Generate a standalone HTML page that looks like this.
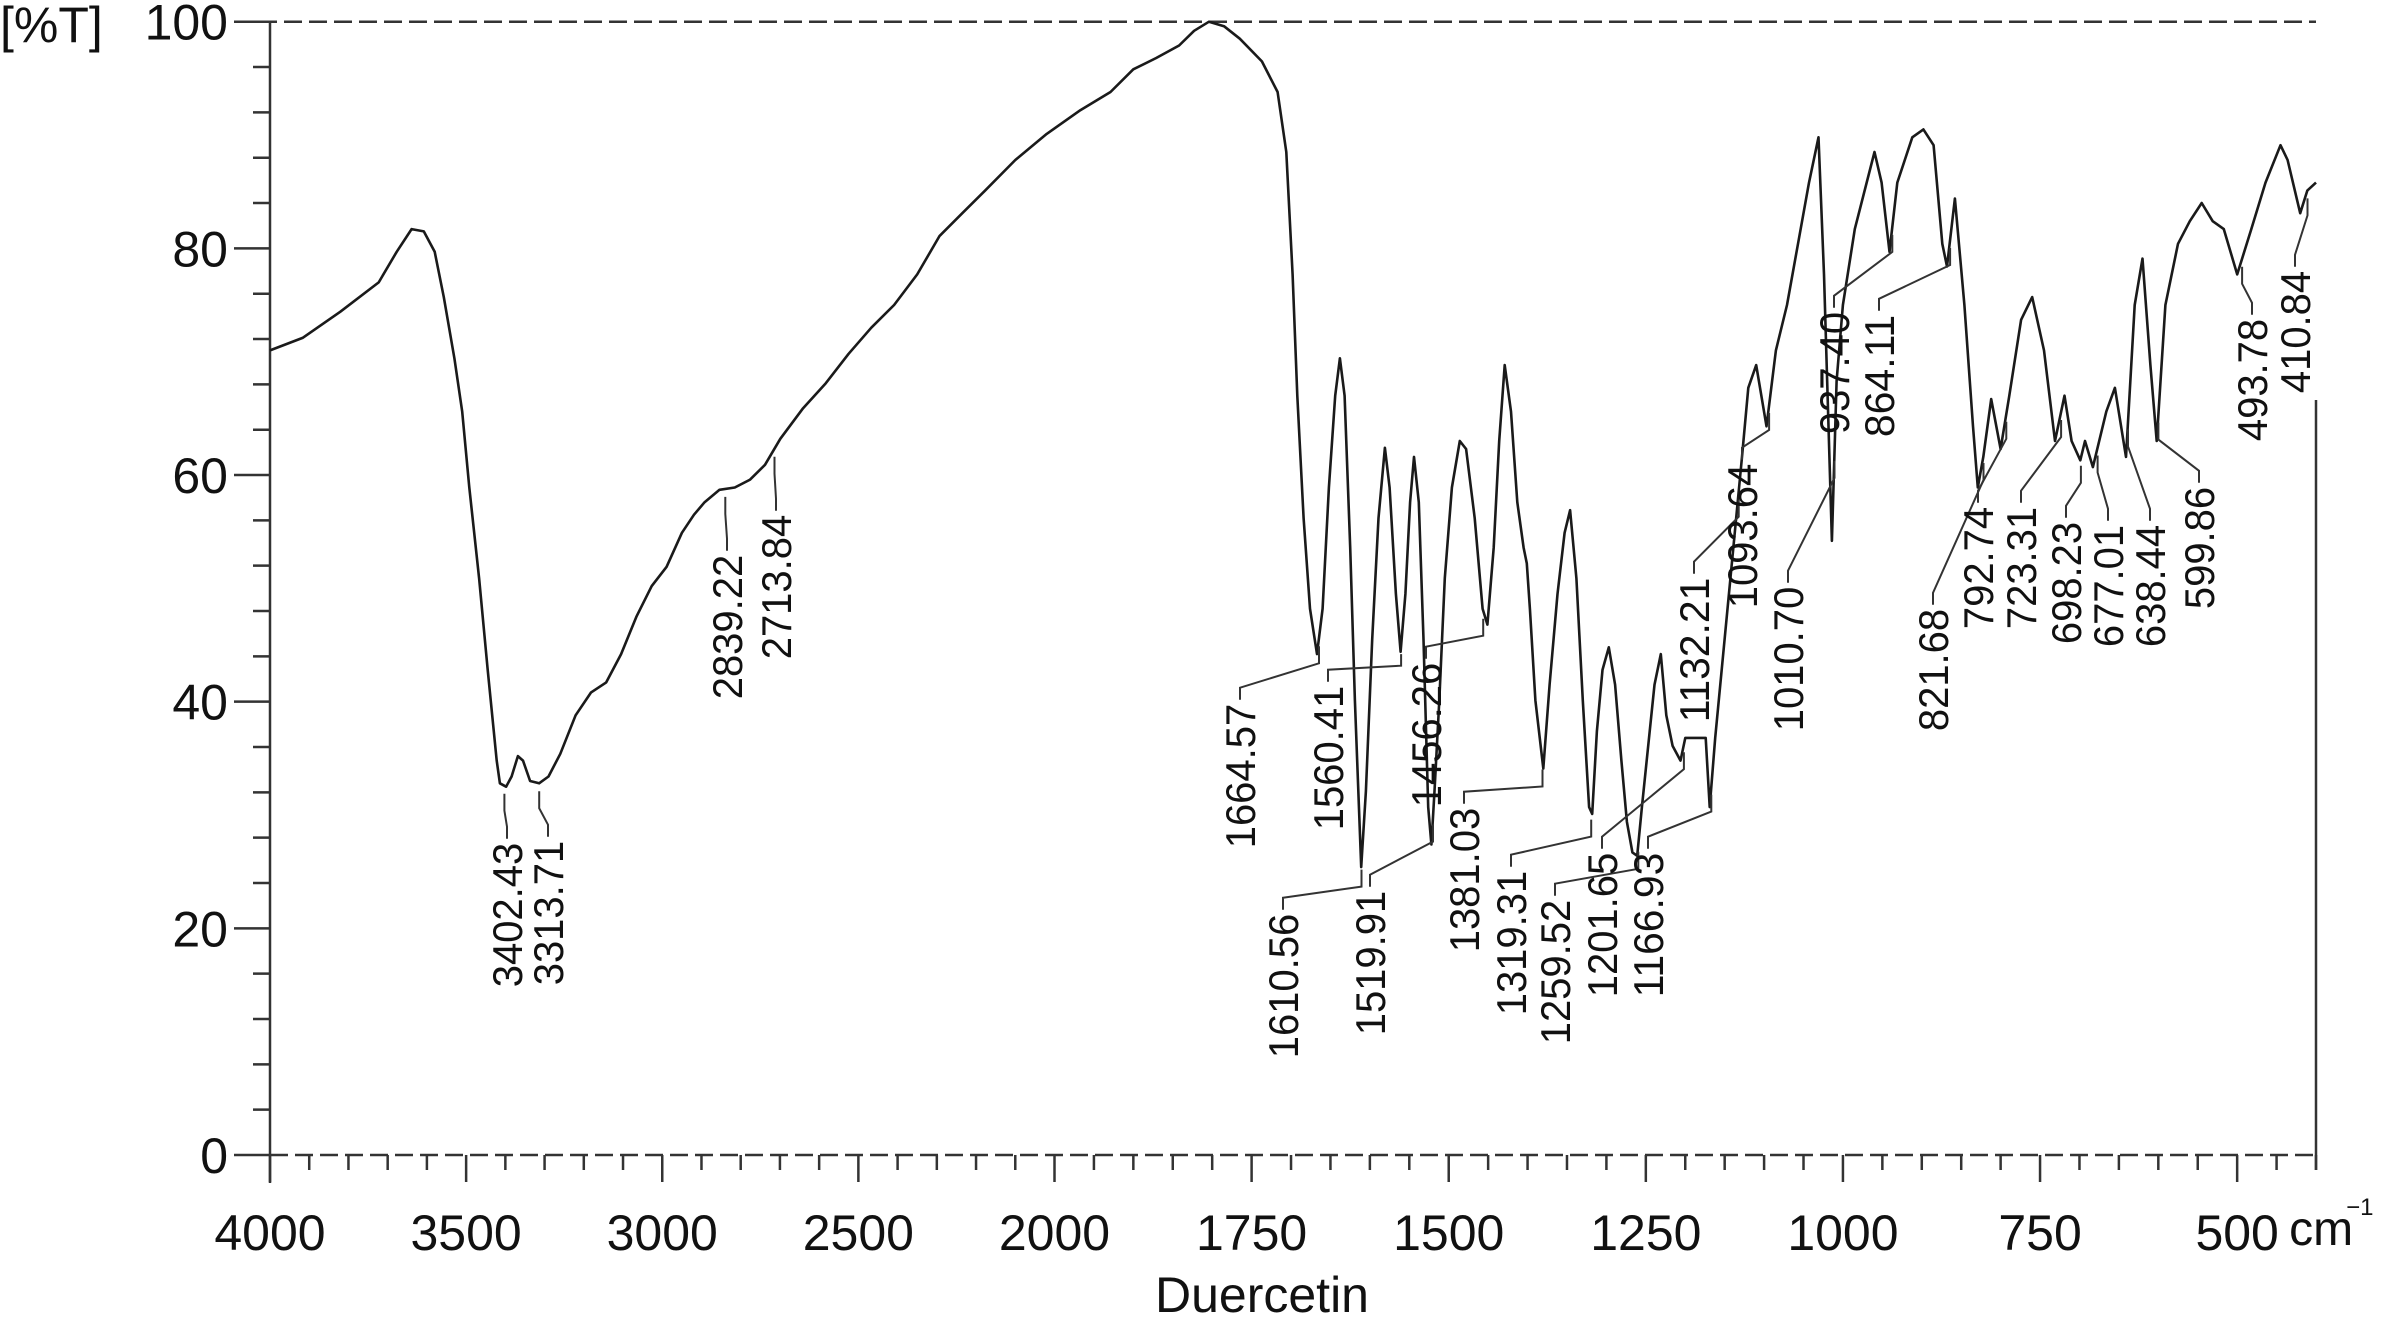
<!DOCTYPE html>
<html>
<head>
<meta charset="utf-8">
<style>
  html, body { margin:0; padding:0; background:#fff; }
  svg { display:block; }
  text { font-family: "Liberation Sans", Arial, sans-serif; fill:#111; }
</style>
</head>
<body>
<svg id="chart" xmlns="http://www.w3.org/2000/svg" width="2386" height="1317" viewBox="0 0 2386 1317">
  <text x="0" y="42" font-size="50">[%T]</text>
  <text x="1262" y="1312" font-size="50" text-anchor="middle">Duercetin</text>
</svg>
<script>
// ---- data (wavenumber cm-1, %T) ----
const wavenumbers = [4000,3917,3821,3723,3677,3639,3608,3580,3557,3530,3510,3492,3467,3445,3422,3414,3398,3384,3368,3355,3337,3314,3290,3260,3221,3182,3143,3105,3066,3027,2989,2950,2919,2892,2854,2815,2776,2738,2699,2641,2583,2525,2467,2409,2350,2293,2235,2177,2100,2020,
1967,1929,1900,1871,1842,1823,1804,1785,1765,1737,1717,1706,1698,1692,1684,1676,1667,1660,1652,1644,1638,1632,1625,1619,1611,1605,1597,1589,1581,1575,1567,1561,1555,1549,1544,1538,1532,1526,1522,1518,1512,1505,1496,1486,1478,1467,1457,1451,1443,1436,1429,1421,1413,1405,1401,1397,1390,1380,1372,1362,1353,1346,1338,1330,1322,1318,1312,1305,1297,1289,1281,1274,1267,1261,1255,1247,1239,1231,1224,1216,1206,1200,1174,1169,1162,
1128,1120,1110,1097,1085,1071,1057,1043,1031,1024,1014,1008,1000,985,960,951,941,931,912,898,885,874,868,858,846,835,829,822,812,800,789,774,760,745,731,719,710,699,693,683,666,655,641,630,620,610,602,591,575,560,545,531,517,500,482,464,445,436,420,411,400];
const transmittance = [71.0,72.1,74.4,77.0,79.7,81.7,81.5,79.7,75.7,70.3,65.6,58.9,50.9,42.8,34.8,32.8,32.5,33.4,35.2,34.8,33.0,32.8,33.4,35.4,38.8,40.8,41.7,44.2,47.5,50.2,51.9,54.9,56.5,57.6,58.7,58.9,59.6,60.9,63.2,65.9,68.1,70.7,73.0,75.0,77.7,81.1,83.1,85.1,87.8,90.1,
92.2,93.8,95.8,96.8,97.9,99.2,100,99.6,98.5,96.5,93.8,88.5,77.7,67.0,56.2,48.2,44.2,48.2,58.9,67.0,70.3,67.0,53.6,40.1,25.4,32.1,45.5,56.2,62.4,58.9,49.5,44.4,49.5,57.6,61.6,57.6,45.5,30.7,27.4,32.1,40.1,50.9,58.9,63.0,62.3,56.2,48.2,46.8,53.6,63.0,69.7,65.6,57.6,53.6,52.2,48.2,40.1,34.1,41.5,49.5,54.9,56.9,50.9,40.1,30.7,30.1,37.4,42.8,44.8,41.5,34.8,29.4,26.7,26.4,30.7,36.1,41.5,44.2,38.8,36.1,34.8,36.8,36.8,30.7,36.8,
61.6,67.7,69.7,64.3,71.0,75.0,80.4,85.8,89.8,77.7,54.2,68.3,75.0,81.7,88.5,85.8,79.7,85.8,89.8,90.5,89.1,80.4,78.4,84.4,75.0,64.3,58.9,61.6,66.7,62.3,67.0,73.7,75.7,71.0,63.0,67.0,63.0,61.3,63.0,60.7,65.6,67.7,61.6,75.0,79.1,69.7,63.0,75.0,80.4,82.4,84.0,82.4,81.7,77.7,81.7,85.8,89.1,87.8,83.1,85.1,85.8];

const yTickValues = [0,20,40,60,80,100];
const xTickLabels = [4000,3500,3000,2500,2000,1750,1500,1250,1000,750,500];
const peakLabels = ["3402.43","3313.71","2839.22","2713.84","1664.57","1560.41","1456.26","1610.56","1519.91","1381.03","1319.31","1259.52","1201.65","1166.93","1132.21","1093.64","1010.70","937.40","864.11","821.68","792.74","723.31","698.23","677.01","638.44","599.86","493.78","410.84"];
// label placement (layout, pixels: label centre x, centre y)
const labelLayout = [[507,915],[548,913],[727,627],[776,587],[1240,776],[1328,758],[1426,735],[1283,986],[1370,963],[1464,880],[1511,943],[1555,972],[1602,925],[1648,925],[1694,650],[1742,536],[1788,659],[1834,373],[1879,376],[1933,670],[1978,568],[2021,568],[2066,583],[2108,586],[2150,586],[2199,548],[2252,380],[2295,332]];

// ---- scales ----
const L = 270, R = 2316, TOP = 21.7, BOT = 1155, X2000 = 1054.5;
function xs(w){ return w >= 2000 ? L + (4000 - w) * (X2000 - L) / 2000 : X2000 + (2000 - w) * (R - X2000) / 1600; }
function ys(t){ return BOT - t * (BOT - TOP) / 100; }
function interpT(w){
  for (let i = 0; i < wavenumbers.length - 1; i++){
    const a = wavenumbers[i], b = wavenumbers[i+1];
    if (w <= a && w >= b){ const f = (a - w) / (a - b); return transmittance[i] + f * (transmittance[i+1] - transmittance[i]); }
  }
  return transmittance[transmittance.length-1];
}
const NS = "http://www.w3.org/2000/svg";
const svg = document.getElementById('chart');
function mk(tag, attrs){ const e = document.createElementNS(NS, tag); for (const k in attrs) e.setAttribute(k, attrs[k]); svg.appendChild(e); return e; }

let e = mk('line', {x1:L-36, y1:ys(100), x2:R, y2:ys(100), stroke:'#333', 'stroke-width':2.5, 'stroke-dasharray':'18 7'});


e = mk('line', {x1:L, y1:BOT, x2:R, y2:BOT, stroke:'#333', 'stroke-width':2.5, 'stroke-dasharray':'18 7'});


e = mk('line', {x1:L, y1:TOP, x2:L, y2:BOT + 28, stroke:'#333', 'stroke-width':2.5});


e = mk('line', {x1:R, y1:400, x2:R, y2:BOT + 15, stroke:'#333', 'stroke-width':2.5});



for (let v = 0; v <= 100; v += 4){
  const major = v % 20 === 0;
  const t = mk('line', {x1:L - (major ? 36 : 17), y1:ys(v), x2:L, y2:ys(v), stroke:'#333', 'stroke-width':2.5});
  
  
}
yTickValues.forEach(v => {
  const t = mk('text', {x:228, y:ys(v) + 18, 'font-size':50, 'text-anchor':'end'});
  t.textContent = v;
  
  
});

for (let w = 4000; w >= 400; w -= (w > 2000 ? 100 : 50)){
  const major = xTickLabels.indexOf(w) >= 0;
  const t = mk('line', {x1:xs(w), y1:BOT, x2:xs(w), y2:BOT + (major ? 27 : 15), stroke:'#333', 'stroke-width':2.5});
  
  
}
xTickLabels.forEach(v => {
  const t = mk('text', {x:xs(v), y:1250, 'font-size':50, 'text-anchor':'middle'});
  t.textContent = v;
  
  
});
e = mk('text', {x:xs(500) + 52, y:1245, 'font-size':48});
e.textContent = 'cm';


e = mk('text', {x:xs(500) + 109, y:1215, 'font-size':24});
e.textContent = '−1';



let d = '';
wavenumbers.forEach((w, i) => { d += (i ? 'L' : 'M') + xs(w).toFixed(1) + ' ' + ys(transmittance[i]).toFixed(1) + ' '; });
e = mk('path', {d:d, fill:'none', stroke:'#1a1a1a', 'stroke-width':2.6, 'stroke-linejoin':'round'});



const FS = 42;
peakLabels.forEach((lab, i) => {
  const w = parseFloat(lab);
  const xw = xs(w), yc = ys(interpT(w));
  const xl = labelLayout[i][0], yc2 = labelLayout[i][1];
  const len = (lab.length - 1) * 0.556 * 40 + 0.278 * 40;
  const top = yc2 - len / 2;
  const yA = Math.min(yc + 25, top - 20);
  const pts = [[xw, yc + 8], [xw, yA], [xl, top - 16], [xl, top - 4]];
  const pl = mk('polyline', {points: pts.map(p => p[0].toFixed(1) + ',' + p[1].toFixed(1)).join(' '), fill:'none', stroke:'#333', 'stroke-width':2});
  
  
  const bx = xl + 0.36 * FS;
  const t = mk('text', {x:bx, y:yc2, 'font-size':FS, 'text-anchor':'middle', textLength:len.toFixed(1), lengthAdjust:'spacingAndGlyphs', transform:'rotate(-90 ' + bx + ' ' + yc2 + ')'});
  t.textContent = lab;
  
  
});
</script>
</body>
</html>
